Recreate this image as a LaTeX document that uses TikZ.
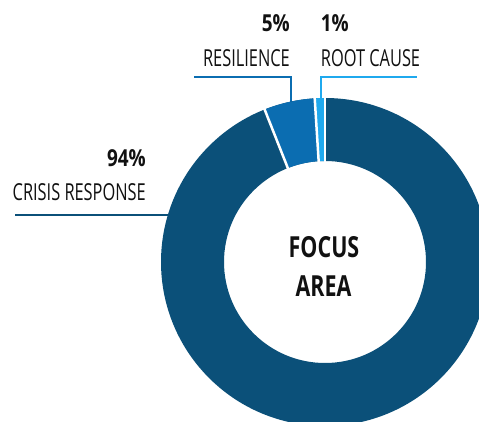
\documentclass[tikz,border=0pt]{standalone}
\usepackage{fontspec}
\setmainfont{Open Sans}
\newfontfamily\labf[FakeStretch=0.70]{Open Sans}
\newfontfamily\numf[FakeStretch=0.81]{Open Sans}
\newfontfamily\focf[FakeStretch=0.74]{Open Sans}
\usetikzlibrary{calc}
\definecolor{crisisc}{HTML}{0B5079}
\definecolor{resc}{HTML}{0B6DB1}
\definecolor{rootc}{HTML}{1FA9EE}
\definecolor{txt}{HTML}{111111}
\begin{document}
\begin{tikzpicture}[x=1pt,y=1pt,
  lab/.style={inner sep=0pt, font=\labf\fontsize{23.4}{24}\selectfont, text=txt},
  num/.style={inner sep=0pt, font=\numf\bfseries\fontsize{23.4}{24}\selectfont, text=txt},
  foc/.style={inner sep=0pt, font=\focf\bfseries\fontsize{29}{30}\selectfont, text=txt},
  leader/.style={line width=2.2pt},
  sep/.style={white, line width=2.5pt}]
\useasboundingbox (0,0) rectangle (479,421);
\clip (0,0) rectangle (479,421);
\fill[white] (0,0) rectangle (479,421);
\coordinate (C) at (325,159);
\def\Ro{164}
\def\Ri{101}
% leader lines (drawn first; ring covers their inner ends)
\coordinate (crisisL) at (15,205.7);
\coordinate (crisisE) at (175,205.7);
\coordinate (resL) at (194,344);
\coordinate (resK) at (291,344);
\coordinate (resE) at (291,315);
\coordinate (rootE) at (321,315);
\coordinate (rootK) at (321,344);
\coordinate (rootR) at (417,344);
\draw[leader, crisisc] (crisisL) -- (crisisE);
\draw[leader, resc] (resL) -- (resK) -- (resE);
\draw[leader, rootc] (rootE) -- (rootK) -- (rootR);
% donut
\fill[crisisc, even odd rule] (C) circle[radius=\Ro] (C) circle[radius=\Ri];
\fill[resc] ($(C)+(93.6:\Ri)$) arc[start angle=93.6, end angle=111.6, radius=\Ri]
  -- ($(C)+(111.6:\Ro)$) arc[start angle=111.6, end angle=93.6, radius=\Ro] -- cycle;
\fill[rootc] ($(C)+(90:\Ri)$) arc[start angle=90, end angle=93.6, radius=\Ri]
  -- ($(C)+(93.6:\Ro)$) arc[start angle=93.6, end angle=90, radius=\Ro] -- cycle;
\foreach \a in {90,93.6,111.6}
  \draw[sep] ($(C)+(\a:99)$) -- ($(C)+(\a:166)$);
% texts
\node[num, anchor=base east] (n94) at (146,254.3) {94\%};
\node[lab, anchor=base east] (tcr) at (146,221) {CRISIS RESPONSE};
\node[num, anchor=base east] (n5) at (290,389) {5\%};
\node[lab, anchor=base east] (tres) at (290,354) {RESILIENCE};
\node[num, anchor=base west] (n1) at (320.7,389) {1\%};
\node[lab, anchor=base west] (troot) at (320.7,354) {ROOT CAUSE};
\node[foc, anchor=base] (f1) at (324,163.7) {FOCUS};
\node[foc, anchor=base] (f2) at (323.5,124.3) {AREA};
\end{tikzpicture}
\end{document}
